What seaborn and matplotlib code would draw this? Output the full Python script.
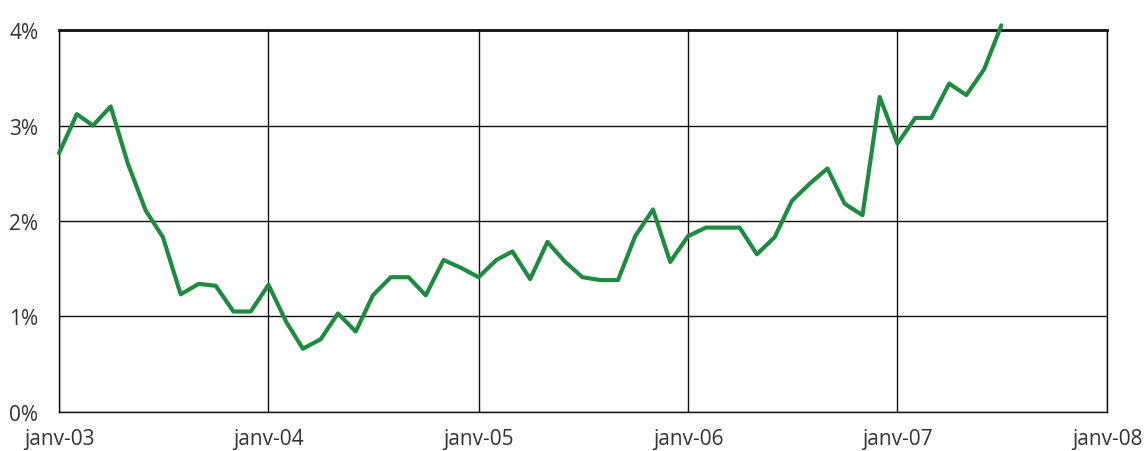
import pandas as pd
import matplotlib
matplotlib.use("Agg")
import matplotlib.pyplot as plt
import seaborn as sns

# ==============================
# DONNEES
# ==============================
months = pd.date_range("2003-01-01", periods=55, freq="MS")
values = [
    2.71, 3.12, 3.00, 3.20, 2.60, 2.11, 1.83, 1.23, 1.34, 1.32, 1.05, 1.05,
    1.33, 0.94, 0.66, 0.76, 1.03, 0.84, 1.22, 1.41, 1.41, 1.22, 1.59, 1.51,
    1.41, 1.59, 1.68, 1.39, 1.78, 1.57, 1.41, 1.38, 1.38, 1.84, 2.12, 1.57,
    1.84, 1.93, 1.93, 1.93, 1.65, 1.83, 2.21, 2.39, 2.55, 2.18, 2.06, 3.30,
    2.81, 3.08, 3.08, 3.44, 3.32, 3.59, 4.05,
]
year_ticks = pd.to_datetime(["2003-01-01", "2004-01-01", "2005-01-01",
                             "2006-01-01", "2007-01-01", "2008-01-01"])
year_labels = ["janv-03", "janv-04", "janv-05", "janv-06", "janv-07", "janv-08"]
pct_ticks = [0, 1, 2, 3, 4]
pct_labels = ["0%", "1%", "2%", "3%", "4%"]

df = pd.DataFrame({"mois": months, "taux": values})

# ==============================
# CONFIGURATION VISUELLE
# ==============================
sns.set_theme(style="white")
plt.rcParams["font.family"] = ["Open Sans", "DejaVu Sans"]

fig = plt.figure(figsize=(11.44, 4.52), dpi=100)
ax = fig.add_axes([0.0516, 0.087, 0.916, 0.844])

sns.lineplot(data=df, x="mois", y="taux", color="#1f8a42", linewidth=3,
             ax=ax, clip_on=False, zorder=5)

ax.set_xlim(year_ticks[0], year_ticks[-1])
ax.set_ylim(0, 4)
ax.set_xticks(year_ticks)
ax.set_xticklabels(year_labels)
ax.set_yticks(pct_ticks)
ax.set_yticklabels(pct_labels)

ax.grid(True, color="#111111", linewidth=1.0)
ax.set_axisbelow(True)
for side in ["left", "bottom", "top", "right"]:
    ax.spines[side].set_visible(True)
    ax.spines[side].set_color("#111111")
    ax.spines[side].set_linewidth(1.0)
ax.spines["top"].set_linewidth(2.0)

ax.tick_params(axis="both", which="major", direction="out", length=6,
               width=1, color="#111111", labelsize=15, labelcolor="#333333")
ax.tick_params(axis="x", pad=6)
ax.tick_params(axis="y", pad=9)
ax.set_xlabel("")
ax.set_ylabel("")

fig.savefig("out.png", dpi=100)
